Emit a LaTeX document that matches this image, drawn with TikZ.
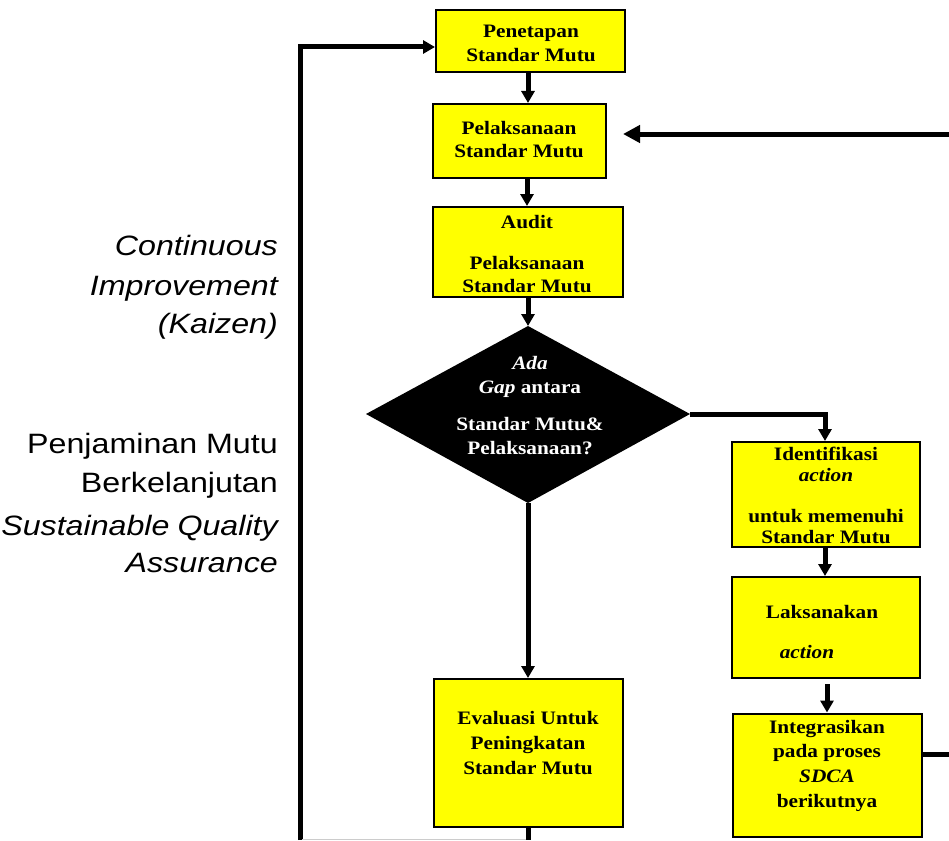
\documentclass[tikz,border=0pt]{standalone}
\usepackage{fontspec}
\setmainfont{Liberation Serif}[FakeStretch=1.12]
\newfontfamily\lsans{Liberation Sans}[FakeStretch=1.15]
\usetikzlibrary{arrows.meta,calc}
\definecolor{boxyellow}{RGB}{255,255,0}
\tikzset{
  box/.style={draw=black, line width=2pt, fill=boxyellow, rectangle, inner sep=0pt},
  btxt/.style={align=center, inner sep=0pt, font=\bfseries\fontsize{19}{24}\selectfont},
  wtxt/.style={btxt, text=white},
  ltxt/.style={anchor=base east, inner sep=0pt, font=\lsans\fontsize{28}{34}\selectfont},
  conn/.style={line width=5pt, draw=black},
  arr/.style={conn, -{Triangle[length=12pt,width=13pt]}},
  bigarr/.style={conn, -{Triangle[length=17pt,width=17pt]}}
}
\begin{document}
\begin{tikzpicture}[x=1pt,y=-1pt]
\useasboundingbox (0,0) rectangle (949,840);
% boxes
\node[box, minimum width=189pt, minimum height=62pt] (pen) at (530.5,41) {};
\node[box, minimum width=173pt, minimum height=74pt] (pel) at (519.5,141) {};
\node[box, minimum width=190pt, minimum height=90pt] (aud) at (528,252) {};
\node[box, minimum width=188pt, minimum height=105pt] (ide) at (826,494.5) {};
\node[box, minimum width=188pt, minimum height=101pt] (lak) at (826,627.5) {};
\node[box, minimum width=189pt, minimum height=123pt] (int) at (827,775) {};
\node[box, minimum width=189pt, minimum height=148pt] (eva) at (528.5,753) {};
% diamond
\coordinate (dtop) at (528,326);
\coordinate (dright) at (690,414);
\coordinate (dbot) at (528,503);
\coordinate (dleft) at (366,414);
\fill[black] (dtop) -- (dright) -- (dbot) -- (dleft) -- cycle;
% texts
\node[btxt] (pen-t) at (531,43) {Penetapan\\Standar Mutu};
\node[btxt, font=\bfseries\fontsize{19}{23}\selectfont] (pel-t) at (519,140) {Pelaksanaan\\Standar Mutu};
\node[btxt, font=\bfseries\fontsize{19}{23}\selectfont] (aud-t) at (527,254) {Audit\\[18pt]Pelaksanaan\\Standar Mutu};
\node[wtxt, font=\bfseries\fontsize{19}{24}\selectfont] (dia-t) at (530,406) {\textit{Ada}\\\textit{Gap} antara\\[13pt]Standar Mutu\&\\Pelaksanaan?};
\node[btxt, font=\bfseries\fontsize{19}{21}\selectfont] (ide-t) at (826,495) {Identifikasi\\\textit{action}\\[20pt]untuk memenuhi\\Standar Mutu};
\node[btxt, anchor=base] (lak-t1) at (822,618) {Laksanakan};
\node[btxt, anchor=base] (lak-t2) at (807,658) {\textit{action}};
\node[btxt, font=\bfseries\fontsize{19}{24.7}\selectfont] (int-t) at (827,765.5) {Integrasikan\\pada proses\\\textit{SDCA}\\berikutnya};
\node[btxt, font=\bfseries\fontsize{19}{25}\selectfont] (eva-t) at (528,743.5) {Evaluasi Untuk\\Peningkatan\\Standar Mutu};
% left texts
\node[ltxt] (l1) at (278,255) {\itshape Continuous};
\node[ltxt] (l2) at (278,295) {\itshape Improvement};
\node[ltxt] (l3) at (278,333) {\itshape (Kaizen)};
\node[ltxt] (l4) at (278,453) {Penjaminan Mutu};
\node[ltxt] (l5) at (278,492) {Berkelanjutan};
\node[ltxt] (l6) at (278,535) {\itshape Sustainable\hspace{8pt}Quality};
\node[ltxt] (l7) at (278,572) {\itshape Assurance};
% connectors
\draw[arr] (pen.south -| 528,0) -- (pel.north -| 528,0);
\draw[arr] (pel.south -| 527,0) -- (aud.north -| 527,0);
\draw[arr] (aud.south -| 528,0) -- (dtop);
\draw[arr] (dright) -- (825,414) -- (ide.north -| 825,0);
\draw[arr] (ide.south -| 825,0) -- (lak.north -| 825,0);
\draw[arr, shorten <=5pt] (lak.south -| 827,0) -- (int.north -| 827,0);
\draw[arr] (dbot) -- (eva.north -| 528,0);
\coordinate (rout) at (949,754);
\draw[conn] (int.east |- rout) -- (rout);
\coordinate (rin) at (949,134);
\draw[bigarr, shorten >=16pt] (rin) -- (rin -| pel.east);
\coordinate (ebot) at (528,840);
\draw[conn] (eva.south -| ebot) -- (ebot);
\coordinate (lb) at (300,840);
\coordinate (lt) at (300,47);
\draw[arr] (lb) -- (lt) -- (lt -| pen.west);
\coordinate (gl) at (302,839);
\coordinate (gr) at (526,839);
\draw[gray!40, line width=1pt] (gl) -- (gr);
\end{tikzpicture}
\end{document}
